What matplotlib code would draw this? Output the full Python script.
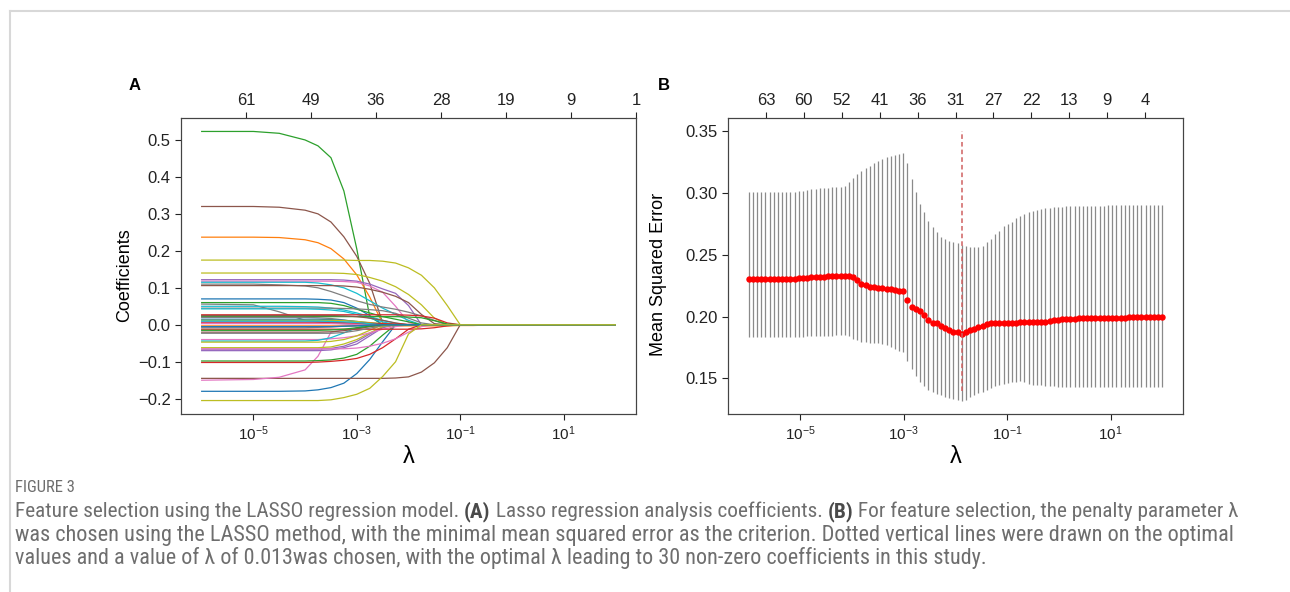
import numpy as np
import matplotlib
matplotlib.use("Agg")
import matplotlib.pyplot as plt
from matplotlib.lines import Line2D
from matplotlib.ticker import NullLocator
from matplotlib import font_manager

plt.rcParams['font.family'] = ['Liberation Sans', 'DejaVu Sans']
plt.rcParams['mathtext.fontset'] = 'custom'
plt.rcParams['mathtext.rm'] = 'Liberation Sans'
plt.rcParams['mathtext.it'] = 'Liberation Sans:italic'
plt.rcParams['mathtext.bf'] = 'Liberation Sans:bold'
plt.rcParams['mathtext.default'] = 'regular'

# --- panel A: lasso coefficient paths (read at these log10(lambda) values) ---
path_log_lambda = [-6, -5, -4.5, -4, -3.75, -3.5, -3.25, -3, -2.75, -2.5, -2.25,
                   -2, -1.75, -1.5, -1.25, -1, -0.75, -0.5, 0, 1, 2]

coef_paths = [
    [0.523, 0.523, 0.518, 0.500, 0.484, 0.452, 0.362, 0.205, 0.022, 0, 0, 0, 0, 0, 0, 0, 0, 0, 0, 0, 0],
    [0.320, 0.320, 0.318, 0.310, 0.300, 0.278, 0.238, 0.185, 0.112, 0.005, 0, 0, 0, 0, 0, 0, 0, 0, 0, 0, 0],
    [0.237, 0.237, 0.236, 0.230, 0.222, 0.206, 0.178, 0.135, 0.075, 0.004, 0, 0, 0, 0, 0, 0, 0, 0, 0, 0, 0],
    [0.175, 0.175, 0.175, 0.175, 0.175, 0.175, 0.175, 0.174, 0.174, 0.172, 0.167, 0.154, 0.134, 0.100, 0.052, 0, 0, 0, 0, 0, 0],
    [0.140, 0.140, 0.140, 0.140, 0.140, 0.140, 0.139, 0.136, 0.128, 0.118, 0.103, 0.082, 0.054, 0.018, 0, 0, 0, 0, 0, 0, 0],
    [0.122, 0.122, 0.122, 0.122, 0.122, 0.122, 0.121, 0.118, 0.110, 0.097, 0.085, 0.052, 0, 0, 0, 0, 0, 0, 0, 0, 0],
    [0.118, 0.118, 0.118, 0.118, 0.118, 0.118, 0.117, 0.115, 0.105, 0.088, 0.050, 0.006, 0, 0, 0, 0, 0, 0, 0, 0, 0],
    [0.115, 0.115, 0.115, 0.115, 0.113, 0.108, 0.100, 0.085, 0.065, 0.045, 0.028, 0.012, 0, 0, 0, 0, 0, 0, 0, 0, 0],
    [0.110, 0.110, 0.108, 0.105, 0.100, 0.090, 0.078, 0.065, 0.055, 0.048, 0.042, 0.034, 0.024, 0.012, 0, 0, 0, 0, 0, 0, 0],
    [0.106, 0.106, 0.106, 0.106, 0.106, 0.106, 0.105, 0.102, 0.096, 0.088, 0.077, 0.060, 0.028, 0.003, 0, 0, 0, 0, 0, 0, 0],
    [0.070, 0.070, 0.070, 0.070, 0.069, 0.067, 0.060, 0.045, 0.025, 0, 0, 0, 0, 0, 0, 0, 0, 0, 0, 0, 0],
    [0.060, 0.060, 0.060, 0.060, 0.060, 0.058, 0.052, 0.042, 0.032, 0.022, 0.015, 0.008, 0, 0, 0, 0, 0, 0, 0, 0, 0],
    [0.056, 0.054, 0.035, 0.012, 0.008, 0.005, 0.003, 0, 0, 0, 0, 0, 0, 0, 0, 0, 0, 0, 0, 0, 0],
    [0.050, 0.050, 0.050, 0.049, 0.048, 0.045, 0.040, 0.032, 0.022, 0.012, 0.004, 0, 0, 0, 0, 0, 0, 0, 0, 0, 0],
    [0.045, 0.045, 0.045, 0.045, 0.045, 0.045, 0.044, 0.043, 0.041, 0.038, 0.031, 0.018, 0.005, 0, 0, 0, 0, 0, 0, 0, 0],
    [0.043, 0.043, 0.043, 0.043, 0.042, 0.040, 0.036, 0.028, 0.018, 0.008, 0, 0, 0, 0, 0, 0, 0, 0, 0, 0, 0],
    [0.027, 0.027, 0.027, 0.027, 0.027, 0.027, 0.027, 0.027, 0.027, 0.027, 0.027, 0.026, 0.024, 0.018, 0.005, 0, 0, 0, 0, 0, 0],
    [0.022, 0.022, 0.022, 0.022, 0.022, 0.022, 0.022, 0.022, 0.022, 0.022, 0.022, 0.021, 0.019, 0.011, 0.002, 0, 0, 0, 0, 0, 0],
    [0.025, 0.025, 0.025, 0.025, 0.025, 0.025, 0.024, 0.022, 0.018, 0.012, 0.005, 0, 0, 0, 0, 0, 0, 0, 0, 0, 0],
    [0.020, 0.020, 0.020, 0.020, 0.019, 0.017, 0.013, 0.008, 0.003, 0, 0, 0, 0, 0, 0, 0, 0, 0, 0, 0, 0],
    [0.015, 0.015, 0.015, 0.015, 0.015, 0.014, 0.012, 0.009, 0.005, 0.002, 0, 0, 0, 0, 0, 0, 0, 0, 0, 0, 0],
    [0.012, 0.012, 0.012, 0.012, 0.012, 0.012, 0.011, 0.009, 0.006, 0.003, 0, 0, 0, 0, 0, 0, 0, 0, 0, 0, 0],
    [0.008, 0.008, 0.008, 0.008, 0.008, 0.007, 0.006, 0.004, 0.002, 0, 0, 0, 0, 0, 0, 0, 0, 0, 0, 0, 0],
    [0.005, 0.005, 0.005, 0.005, 0.005, 0.005, 0.005, 0.004, 0.004, 0.003, 0.002, 0.001, 0, 0, 0, 0, 0, 0, 0, 0, 0],
    [0.010, 0.010, 0.010, 0.010, 0.010, 0.009, 0.008, 0.006, 0.003, 0, 0, 0, 0, 0, 0, 0, 0, 0, 0, 0, 0],
    [0.003, 0.003, 0.003, 0.003, 0.003, 0.003, 0.002, 0.001, 0, 0, 0, 0, 0, 0, 0, 0, 0, 0, 0, 0, 0],
    [-0.003, -0.003, -0.003, -0.003, -0.003, -0.003, -0.003, -0.003, -0.003, -0.003, -0.003, -0.003, -0.003, -0.003, -0.003, -0.002, -0.002, -0.001, 0, 0, 0],
    [-0.180, -0.180, -0.180, -0.179, -0.176, -0.170, -0.158, -0.132, -0.094, -0.046, 0, 0, 0, 0, 0, 0, 0, 0, 0, 0, 0],
    [-0.145, -0.145, -0.145, -0.145, -0.145, -0.145, -0.145, -0.145, -0.145, -0.145, -0.144, -0.141, -0.128, -0.103, -0.062, 0, 0, 0, 0, 0, 0],
    [-0.150, -0.148, -0.142, -0.122, -0.085, -0.020, -0.014, -0.010, -0.005, 0, 0, 0, 0, 0, 0, 0, 0, 0, 0, 0, 0],
    [-0.098, -0.098, -0.098, -0.098, -0.097, -0.095, -0.090, -0.080, -0.058, -0.028, 0, 0, 0, 0, 0, 0, 0, 0, 0, 0, 0],
    [-0.102, -0.102, -0.102, -0.102, -0.101, -0.099, -0.096, -0.091, -0.080, -0.062, -0.038, -0.012, 0, 0, 0, 0, 0, 0, 0, 0, 0],
    [-0.070, -0.070, -0.070, -0.070, -0.070, -0.068, -0.062, -0.052, -0.030, -0.008, 0, 0, 0, 0, 0, 0, 0, 0, 0, 0, 0],
    [-0.066, -0.066, -0.066, -0.066, -0.066, -0.064, -0.058, -0.045, -0.025, -0.006, 0, 0, 0, 0, 0, 0, 0, 0, 0, 0, 0],
    [-0.062, -0.062, -0.062, -0.062, -0.062, -0.060, -0.052, -0.040, -0.022, -0.005, 0, 0, 0, 0, 0, 0, 0, 0, 0, 0, 0],
    [-0.065, -0.065, -0.065, -0.065, -0.065, -0.065, -0.065, -0.063, -0.058, -0.050, -0.038, -0.020, -0.005, 0, 0, 0, 0, 0, 0, 0, 0],
    [-0.040, -0.040, -0.040, -0.040, -0.040, -0.038, -0.035, -0.030, -0.022, -0.012, -0.005, 0, 0, 0, 0, 0, 0, 0, 0, 0, 0],
    [-0.044, -0.044, -0.044, -0.044, -0.042, -0.035, -0.022, -0.008, 0, 0, 0, 0, 0, 0, 0, 0, 0, 0, 0, 0, 0],
    [-0.047, -0.047, -0.047, -0.047, -0.047, -0.045, -0.040, -0.030, -0.015, 0, 0, 0, 0, 0, 0, 0, 0, 0, 0, 0, 0],
    [-0.012, -0.012, -0.012, -0.012, -0.012, -0.012, -0.012, -0.012, -0.012, -0.012, -0.012, -0.012, -0.011, -0.008, -0.003, 0, 0, 0, 0, 0, 0],
    [-0.020, -0.020, -0.020, -0.020, -0.020, -0.019, -0.016, -0.011, -0.005, 0, 0, 0, 0, 0, 0, 0, 0, 0, 0, 0, 0],
    [-0.023, -0.023, -0.023, -0.023, -0.023, -0.023, -0.021, -0.016, -0.009, -0.003, 0, 0, 0, 0, 0, 0, 0, 0, 0, 0, 0],
    [-0.008, -0.008, -0.008, -0.008, -0.007, -0.006, -0.004, -0.002, 0, 0, 0, 0, 0, 0, 0, 0, 0, 0, 0, 0, 0],
    [-0.015, -0.015, -0.015, -0.015, -0.015, -0.014, -0.012, -0.008, -0.004, 0, 0, 0, 0, 0, 0, 0, 0, 0, 0, 0, 0],
    [-0.005, -0.005, -0.005, -0.005, -0.005, -0.005, -0.004, -0.003, -0.001, 0, 0, 0, 0, 0, 0, 0, 0, 0, 0, 0, 0],
    [-0.205, -0.205, -0.205, -0.205, -0.205, -0.203, -0.197, -0.188, -0.172, -0.140, -0.100, -0.025, 0, 0, 0, 0, 0, 0, 0, 0, 0],
]
path_colors = ['C2', 'C5', 'C1', 'C8', 'C8', 'C4', 'C6', 'C9', 'C7', 'C5',
               'C0', 'C2', 'C7', 'C9', 'C7', 'C9', 'C3', 'C2', 'C5', 'C7',
               'C0', 'C8', 'C4', 'C3', 'C9', 'C6', 'C1',
               'C0', 'C5', 'C6', 'C2', 'C3', 'C4', 'C4', 'C8', 'C6',
               'C6', 'C9', 'C8', 'C3', 'C5', 'C7', 'C7', 'C2', 'C0', 'C8']

top_labels_A = ['61', '49', '36', '28', '19', '9', '1']

# --- panel B: cross-validated MSE ---
cv_lambdas = np.logspace(-6, 2, 100)
mse_mean = [
    0.2308, 0.2308, 0.2308, 0.2308, 0.2308, 0.2308, 0.2308, 0.2308, 0.2308, 0.2308,
    0.2308, 0.2308, 0.2310, 0.2313, 0.2316, 0.2318, 0.2320, 0.2322, 0.2324, 0.2326,
    0.2328, 0.2329, 0.2330, 0.2330, 0.2330, 0.2324, 0.2297, 0.2267, 0.2254, 0.2243,
    0.2238, 0.2235, 0.2232, 0.2227, 0.2222, 0.2213, 0.2208, 0.2205, 0.2135, 0.2081,
    0.2060, 0.2043, 0.2010, 0.1968, 0.1948, 0.1944, 0.1921, 0.1905, 0.1892, 0.1878,
    0.1873, 0.1860, 0.1873, 0.1887, 0.1900, 0.1916, 0.1927, 0.1938, 0.1946, 0.1947,
    0.1948, 0.1949, 0.1950, 0.1951, 0.1951, 0.1952, 0.1953, 0.1953, 0.1954, 0.1956,
    0.1957, 0.1959, 0.1962, 0.1968, 0.1975, 0.1978, 0.1981, 0.1982, 0.1983, 0.1985,
    0.1986, 0.1987, 0.1988, 0.1988, 0.1989, 0.1990, 0.1990, 0.1991, 0.1992, 0.1992,
    0.1992, 0.1993, 0.1993, 0.1993, 0.1993, 0.1993, 0.1993, 0.1993, 0.1993, 0.1993,
]
mse_upper = [
    0.3013, 0.3013, 0.3013, 0.3013, 0.3013, 0.3013, 0.3013, 0.3013, 0.3013, 0.3013,
    0.3013, 0.3013, 0.3018, 0.3021, 0.3026, 0.3031, 0.3035, 0.3040, 0.3043, 0.3045,
    0.3048, 0.3051, 0.3053, 0.3056, 0.3094, 0.3124, 0.3156, 0.3183, 0.3205, 0.3224,
    0.3242, 0.3261, 0.3278, 0.3290, 0.3303, 0.3310, 0.3316, 0.3324, 0.3245, 0.3116,
    0.3008, 0.2913, 0.2851, 0.2778, 0.2724, 0.2683, 0.2648, 0.2629, 0.2616, 0.2602,
    0.2597, 0.2583, 0.2570, 0.2567, 0.2562, 0.2562, 0.2575, 0.2602, 0.2629, 0.2670,
    0.2697, 0.2730, 0.2752, 0.2770, 0.2797, 0.2818, 0.2832, 0.2845, 0.2854, 0.2862,
    0.2870, 0.2878, 0.2883, 0.2886, 0.2889, 0.2891, 0.2894, 0.2897, 0.2897, 0.2897,
    0.2897, 0.2897, 0.2897, 0.2897, 0.2897, 0.2897, 0.2900, 0.2900, 0.2900, 0.2900,
    0.2900, 0.2900, 0.2900, 0.2902, 0.2902, 0.2902, 0.2902, 0.2902, 0.2902, 0.2902,
]
mse_lower = [
    0.1835, 0.1835, 0.1835, 0.1835, 0.1835, 0.1835, 0.1835, 0.1835, 0.1835, 0.1835,
    0.1835, 0.1835, 0.1835, 0.1838, 0.1840, 0.1841, 0.1842, 0.1843, 0.1844, 0.1845,
    0.1846, 0.1847, 0.1847, 0.1847, 0.1840, 0.1819, 0.1806, 0.1797, 0.1792, 0.1789,
    0.1787, 0.1784, 0.1779, 0.1767, 0.1755, 0.1738, 0.1724, 0.1711, 0.1643, 0.1576,
    0.1516, 0.1468, 0.1435, 0.1406, 0.1387, 0.1373, 0.1360, 0.1346, 0.1338, 0.1333,
    0.1327, 0.1319, 0.1327, 0.1346, 0.1365, 0.1381, 0.1392, 0.1406, 0.1419, 0.1433,
    0.1446, 0.1455, 0.1463, 0.1468, 0.1473, 0.1478, 0.1468, 0.1455, 0.1448, 0.1443,
    0.1441, 0.1439, 0.1436, 0.1434, 0.1432, 0.1431, 0.1430, 0.1430, 0.1429, 0.1428,
    0.1427, 0.1427, 0.1427, 0.1427, 0.1427, 0.1427, 0.1427, 0.1427, 0.1427, 0.1427,
    0.1426, 0.1426, 0.1426, 0.1426, 0.1426, 0.1425, 0.1425, 0.1425, 0.1425, 0.1425,
]
top_labels_B = ['63', '60', '52', '41', '36', '31', '27', '22', '13', '9', '4']

caption_title = "FIGURE 3"
caption_lines = [
    [("Feature selection using the LASSO regression model. ", False), ("(A)", True),
     (" Lasso regression analysis coefficients. ", False), ("(B)", True),
     (" For feature selection, the penalty parameter \u03bb", False)],
    [("was chosen using the LASSO method, with the minimal mean squared error as the "
      "criterion. Dotted vertical lines were drawn on the optimal", False)],
    [("values and a value of \u03bb of 0.013was chosen, with the optimal \u03bb leading "
      "to 30 non-zero coefficients in this study.", False)],
]
caption_widths = [1218, 1213, 972]   # pixel width of each caption line

# ---------------------------------------------------------------
W, H = 1290, 592
fig = plt.figure(figsize=(W / 100, H / 100), dpi=100)
spine_col = '#444444'


def style_axes(ax):
    ax.set_xscale('log')
    ax.set_xticks([1e-5, 1e-3, 1e-1, 1e1])
    ax.xaxis.set_minor_locator(NullLocator())
    ax.tick_params(colors='#222222', length=4)
    ax.tick_params(axis='x', labelsize=11)
    ax.tick_params(axis='y', labelsize=12)
    for s in ax.spines.values():
        s.set_color(spine_col)
    ax.set_xlabel('\u03bb', fontsize=17, labelpad=2)


def style_top(top, labels, ticks):
    top.set_xlim(0, 1)
    top.set_xticks(ticks)
    top.set_xticklabels(labels)
    top.tick_params(labelsize=12, colors='#222222', length=4)
    for s in top.spines.values():
        s.set_color(spine_col)


# panel A
axA = fig.add_axes([181 / W, 1 - 414 / H, 455 / W, 296 / H])
lam_path = 10.0 ** np.array(path_log_lambda)
for vals, col in zip(coef_paths, path_colors):
    axA.plot(lam_path, vals, color=col, lw=0.9)
style_axes(axA)
axA.set_ylabel('Coefficients', fontsize=13)
axA.yaxis.set_label_coords(-0.105, 0.47)
axA.set_yticks([-0.2, -0.1, 0.0, 0.1, 0.2, 0.3, 0.4, 0.5])
nA = len(top_labels_A)
style_top(axA.twiny(), top_labels_A, np.arange(1, nA + 1) / nA)

# panel B
axB = fig.add_axes([728 / W, 1 - 414 / H, 455 / W, 296 / H])
mean = np.array(mse_mean)
yerr = [mean - np.array(mse_lower), np.array(mse_upper) - mean]
axB.errorbar(cv_lambdas, mean, yerr=yerr, fmt='o', color='red', ms=3.6,
             ecolor='#8a8a8a', elinewidth=0.9, capsize=0, zorder=3)
lam_opt = cv_lambdas[int(np.argmin(mean))]
axB.vlines(lam_opt, 0.14, 0.35, colors='#d06060', linestyles=(0, (3, 2)), lw=1.1, zorder=4)
style_axes(axB)
axB.set_ylabel('Mean Squared Error', fontsize=13)
axB.yaxis.set_label_coords(-0.135, 0.47)
axB.set_yticks([0.15, 0.20, 0.25, 0.30, 0.35])
nB = len(top_labels_B)
style_top(axB.twiny(), top_labels_B, np.arange(1, nB + 1) / (nB + 1))

fig.text(135 / W, 1 - 86 / H, 'A', fontsize=12, fontweight='bold', ha='center', va='center')
fig.text(664 / W, 1 - 86 / H, 'B', fontsize=12, fontweight='bold', ha='center', va='center')

# frame lines
fig.add_artist(Line2D([10 / W, 1], [1 - 11 / H, 1 - 11 / H], color='#d8d8d8', lw=1.5))
fig.add_artist(Line2D([10 / W, 10 / W], [0, 1 - 11 / H], color='#d8d8d8', lw=1.5))

# caption
available = {f.name for f in font_manager.fontManager.ttflist}
cap_font = next((f for f in ['Liberation Sans Narrow', 'Roboto Condensed', 'Lato', 'Open Sans']
                 if f in available), 'DejaVu Sans')
cap_family = [cap_font, 'DejaVu Sans']
renderer = fig.canvas.get_renderer()
cap_color = '#6e6e6e'


def draw_parts(parts, x_px, y_px, size):
    x = x_px
    made = []
    for txt, bold in parts:
        t = fig.text(x / W, 1 - y_px / H, txt, fontsize=size, family=cap_family,
                     fontweight='bold' if bold else 'normal',
                     color='#4a4a4a' if bold else cap_color, ha='left', va='baseline')
        x += t.get_window_extent(renderer).width
        made.append(t)
    return made, x - x_px


draw_parts([(caption_title, False)], 15, 492, 12)
for k, parts in enumerate(caption_lines):
    probe, width = draw_parts(parts, 15, 517, 11)
    for t in probe:
        t.remove()
    draw_parts(parts, 15, 517 + 23.5 * k, 11 * caption_widths[k] / width)

fig.savefig('out.png', dpi=100)
